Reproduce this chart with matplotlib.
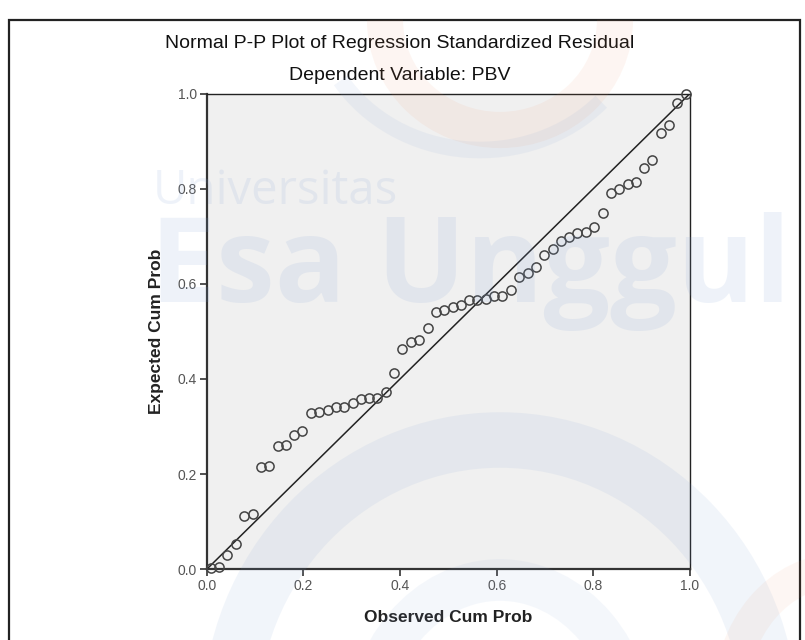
import matplotlib
matplotlib.use("Agg")
import matplotlib.pyplot as plt
from matplotlib.patches import Arc, Rectangle

# observed vs expected cumulative probability
observed = [0.009, 0.026, 0.043, 0.060, 0.078, 0.095, 0.112, 0.129, 0.147, 0.164,
            0.181, 0.198, 0.216, 0.233, 0.250, 0.267, 0.284, 0.302, 0.319, 0.336,
            0.353, 0.371, 0.388, 0.405, 0.422, 0.440, 0.457, 0.474, 0.491, 0.509,
            0.526, 0.543, 0.560, 0.578, 0.595, 0.612, 0.629, 0.647, 0.664, 0.681,
            0.698, 0.716, 0.733, 0.750, 0.767, 0.784, 0.802, 0.819, 0.836, 0.853,
            0.871, 0.888, 0.905, 0.922, 0.940, 0.957, 0.974, 0.991]
expected = [0.002, 0.004, 0.030, 0.053, 0.111, 0.116, 0.216, 0.218, 0.260, 0.261,
            0.283, 0.291, 0.328, 0.331, 0.335, 0.341, 0.342, 0.349, 0.358, 0.360,
            0.361, 0.373, 0.413, 0.463, 0.478, 0.481, 0.507, 0.541, 0.544, 0.551,
            0.556, 0.565, 0.565, 0.568, 0.574, 0.575, 0.587, 0.615, 0.622, 0.636,
            0.660, 0.674, 0.691, 0.699, 0.707, 0.709, 0.720, 0.749, 0.790, 0.799,
            0.809, 0.813, 0.843, 0.860, 0.916, 0.934, 0.981, 0.998]
ticks = [0.0, 0.2, 0.4, 0.6, 0.8, 1.0]
tick_labels = ["0.0", "0.2", "0.4", "0.6", "0.8", "1.0"]

title = "Normal P-P Plot of Regression Standardized Residual"
subtitle = "Dependent Variable: PBV"

plt.rcParams['font.family'] = ['Liberation Sans', 'DejaVu Sans']

W, H = 805, 640
fig = plt.figure(figsize=(W / 100, H / 100), dpi=100)


def fx(px):
    return px / W


def fy(py):
    return 1 - py / H


# outer chart frame
fig.patches.append(Rectangle((fx(9), fy(645)), fx(800) - fx(9), fy(20) - fy(645),
                             transform=fig.transFigure, fill=False,
                             ec='#222222', lw=1.6))

fig.text(fx(400), fy(43), title, ha='center', va='center', fontsize=14, color='#111111')
fig.text(fx(400), fy(76), subtitle, ha='center', va='center', fontsize=14, color='#111111')

ax = fig.add_axes([fx(206.7), fy(569.3), fx(690) - fx(206.7), fy(93.5) - fy(569.3)])
ax.set_facecolor('#f0f0f0')
ax.plot([0, 1], [0, 1], color='#222222', lw=1.1, zorder=2)
ax.plot(observed, expected, 'o', mfc='none', mec='#444444', ms=6.6, mew=1.1,
        clip_on=False, zorder=3)
ax.set_xlim(0, 1)
ax.set_ylim(0, 1)
ax.set_xticks(ticks)
ax.set_xticklabels(tick_labels)
ax.set_yticks(ticks)
ax.set_yticklabels(tick_labels)
ax.tick_params(direction='out', length=5, width=1.2, color='#333333',
               labelcolor='#555555', labelsize=10, pad=2)
for side in ['left', 'bottom']:
    ax.spines[side].set_color('#333333')
    ax.spines[side].set_linewidth(1.6)
for side in ['top', 'right']:
    ax.spines[side].set_color('#222222')
    ax.spines[side].set_linewidth(1.0)
ax.set_xlabel("Observed Cum Prob", fontsize=12.5, fontweight='bold', color='#222222', labelpad=12)
ax.set_ylabel("Expected Cum Prob", fontsize=12.5, fontweight='bold', color='#222222', labelpad=10)

# faint university watermark laid over the whole picture
wm = fig.add_axes([0, 0, 1, 1], zorder=10)
wm.set_xlim(0, W)
wm.set_ylim(H, 0)
wm.axis('off')
wm.patch.set_alpha(0)
blue = '#7fa0d6'
orange = '#f08a5a'
wm.add_patch(Arc((500, 20), 230, 220, theta1=0, theta2=180, color=orange, lw=26, alpha=0.08))
wm.add_patch(Arc((480, 0), 330, 300, theta1=40, theta2=150, color=blue, lw=12, alpha=0.09))
wm.add_patch(Arc((500, 720), 540, 560, theta1=180, theta2=360, color=blue, lw=40, alpha=0.1))
wm.add_patch(Arc((500, 740), 270, 320, theta1=180, theta2=360, color=blue, lw=30, alpha=0.08))
wm.add_patch(Arc((840, 700), 220, 260, theta1=180, theta2=270, color=orange, lw=24, alpha=0.07))
wm.text(153, 204, "Universitas", fontsize=34, color=blue, alpha=0.13,
        family='Open Sans', va='baseline', ha='left')
wm.text(150, 302, "Esa Unggul", fontsize=85, fontweight='bold', color=blue, alpha=0.13,
        family='Open Sans', va='baseline', ha='left')

fig.savefig("out.png", dpi=100)
